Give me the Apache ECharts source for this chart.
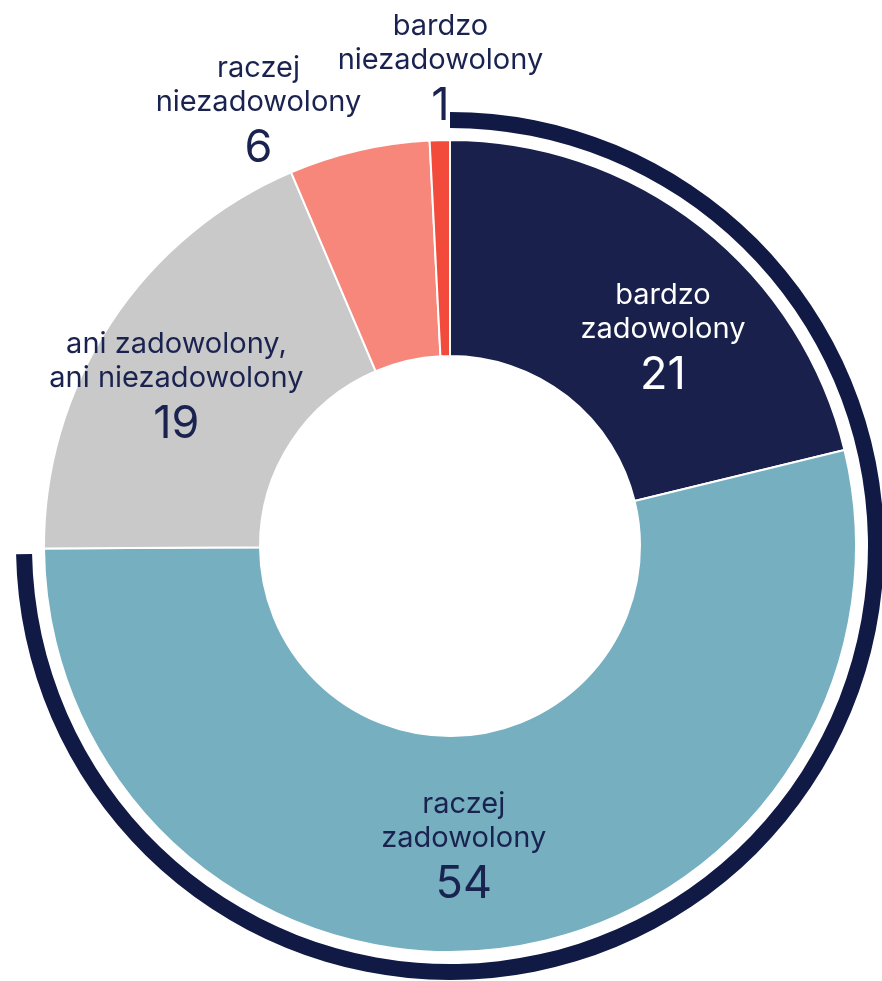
<!DOCTYPE html>
<html>
<head>
<meta charset="utf-8">
<script src="https://cdn.jsdelivr.net/npm/echarts@6/dist/echarts.min.js"></script>
<style>
html,body{margin:0;padding:0;background:#fff;}
#c{width:882px;height:981px;}
</style>
</head>
<body>
<div id="c"></div>
<script>
// Categories (display names, with line breaks as in the picture)
const categories = [
  'bardzo\nzadowolony',
  'raczej\nzadowolony',
  'ani zadowolony,\nani niezadowolony',
  'raczej\nniezadowolony',
  'bardzo\nniezadowolony'
];
// Displayed (rounded) values
const labelValues = [21, 54, 19, 6, 1];
// Slice sizes (sum 100)
const sliceValues = [21.2, 53.7, 18.7, 5.6, 0.8];
// Outer arc: share of satisfied respondents (as drawn)
const arcValues = [74.7, 25.3];

const colors = ['#18204b', '#75afc0', '#c9c9c9', '#f6877a', '#f24b3c'];
const textColors = ['#ffffff', '#1a2350', '#1a2350', '#1a2350', '#1a2350'];
const offsets = [[27, 32], [-23, 6], [-22, 10], [-124, -138], [-2, -173]];

const FONT = 'Inter';

function fmt(name, v) {
  return name.split('\n').map(s => '{t|' + s + '}').join('\n') + '\n{n|' + v + '}';
}

const pieData = categories.map((name, i) => ({
  name: name,
  value: sliceValues[i],
  itemStyle: { color: colors[i] },
  label: {
    show: true,
    position: 'inside',
    offset: offsets[i],
    formatter: fmt(name, labelValues[i]),
    rich: {
      t: { fontFamily: FONT, fontSize: 29, lineHeight: 34, color: textColors[i], align: 'center' },
      n: { fontFamily: FONT, fontSize: 45, lineHeight: 58, color: textColors[i], align: 'center' }
    }
  }
}));

const chart = echarts.init(document.getElementById('c'), null, { renderer: 'canvas' });
chart.setOption({
  animation: false,
  backgroundColor: '#ffffff',
  series: [
    {
      type: 'pie',
      center: [450, 546],
      radius: [418, 434],
      startAngle: 90,
      clockwise: true,
      silent: true,
      label: { show: false },
      labelLine: { show: false },
      emphasis: { disabled: true },
      data: [
        { value: arcValues[0], itemStyle: { color: '#101a45' } },
        { value: arcValues[1], itemStyle: { color: 'rgba(0,0,0,0)' } }
      ]
    },
    {
      type: 'pie',
      center: [450, 546],
      radius: [190, 406],
      startAngle: 90,
      clockwise: true,
      silent: true,
      avoidLabelOverlap: false,
      minShowLabelAngle: 0,
      labelLayout: { hideOverlap: false },
      labelLine: { show: false },
      emphasis: { disabled: true },
      itemStyle: { borderColor: '#ffffff', borderWidth: 2 },
      data: pieData
    }
  ]
});
</script>
</body>
</html>
